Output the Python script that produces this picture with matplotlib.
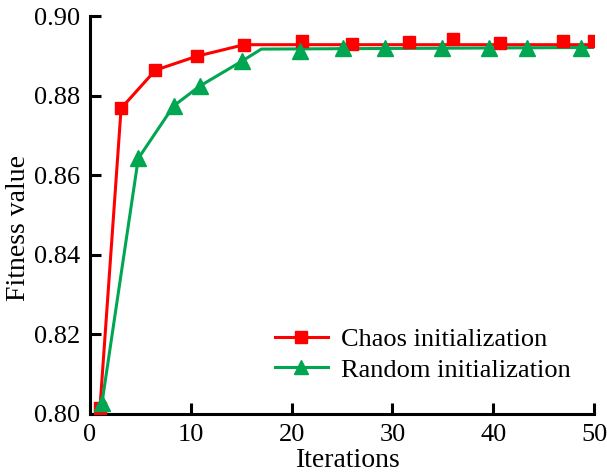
import matplotlib
matplotlib.use("Agg")
import matplotlib.pyplot as plt

plt.rcParams["font.family"] = ["Liberation Serif", "DejaVu Serif"]

# Chaos initialization: marker points and the curve drawn under them
chaos_x = [1.0, 3.1, 6.5, 10.6, 15.3, 21.0, 26.0, 31.6, 36.0, 40.7, 46.9, 50.0]
chaos_y = [0.8014, 0.8768, 0.8864, 0.8899, 0.8926, 0.8938, 0.8929, 0.8935,
           0.8942, 0.8933, 0.8938, 0.8938]
chaos_line_x = [1.0, 3.1, 6.5, 10.6, 15.3, 50.0]
chaos_line_y = [0.8014, 0.8768, 0.8864, 0.8899, 0.8928, 0.8928]

# Random initialization
rand_x = [1.2, 4.8, 8.3, 10.9, 15.1, 20.8, 25.1, 29.3, 34.9, 39.6, 43.3, 48.7]
rand_y = [0.8027, 0.8642, 0.8774, 0.8824, 0.8887, 0.8912, 0.8920, 0.8919,
          0.8919, 0.8919, 0.8919, 0.8919]
rand_line_x = [1.2, 4.8, 8.3, 10.9, 15.1, 17.0, 50.0]
rand_line_y = [0.8027, 0.8642, 0.8774, 0.8824, 0.8887, 0.8917, 0.8921]

red = "#FF0000"
green = "#00A651"

fig = plt.figure(figsize=(6.07, 4.72), dpi=100)
ax = fig.add_axes([0.148, 0.123, 0.831, 0.843])

ax.plot(chaos_line_x, chaos_line_y, color=red, lw=2.2, zorder=2)
ax.plot(rand_line_x, rand_line_y, color=green, lw=2.2, zorder=2)
ax.plot(chaos_x, chaos_y, ls="none", marker="s", ms=9, color=red, zorder=3)
ax.plot(rand_x, rand_y, ls="none", marker="^", ms=11, color=green, zorder=3)

# legend proxies: line with marker
ax.plot([], [], color=red, lw=2.2, marker="s", ms=8, label="Chaos initialization")
ax.plot([], [], color=green, lw=2.2, marker="^", ms=10, label="Random initialization")

ax.set_xlim(0, 50)
ax.set_ylim(0.80, 0.90)
ax.set_xticks([0, 10, 20, 30, 40, 50])
ax.set_yticks([0.80, 0.82, 0.84, 0.86, 0.88, 0.90])
ax.set_yticklabels(["0.80", "0.82", "0.84", "0.86", "0.88", "0.90"])

for side in ["top", "right"]:
    ax.spines[side].set_visible(False)
for side in ["left", "bottom"]:
    ax.spines[side].set_linewidth(2.2)

ax.tick_params(direction="in", length=8, width=2.2, labelsize=19)
ax.tick_params(axis="y", pad=7)
ax.tick_params(axis="x", pad=7)

ax.set_xlabel("Iterations", fontsize=20)
ax.set_ylabel("Fitness value", fontsize=20)
ax.xaxis.set_label_coords(0.512, -0.085)
ax.yaxis.set_label_coords(-0.117, 0.468)

ax.legend(loc="lower left", bbox_to_anchor=(0.33, 0.035), frameon=False,
          fontsize=19, handlelength=2.0, handletextpad=0.5, labelspacing=0.25,
          borderpad=0.2)

fig.savefig("out.png", dpi=100)
